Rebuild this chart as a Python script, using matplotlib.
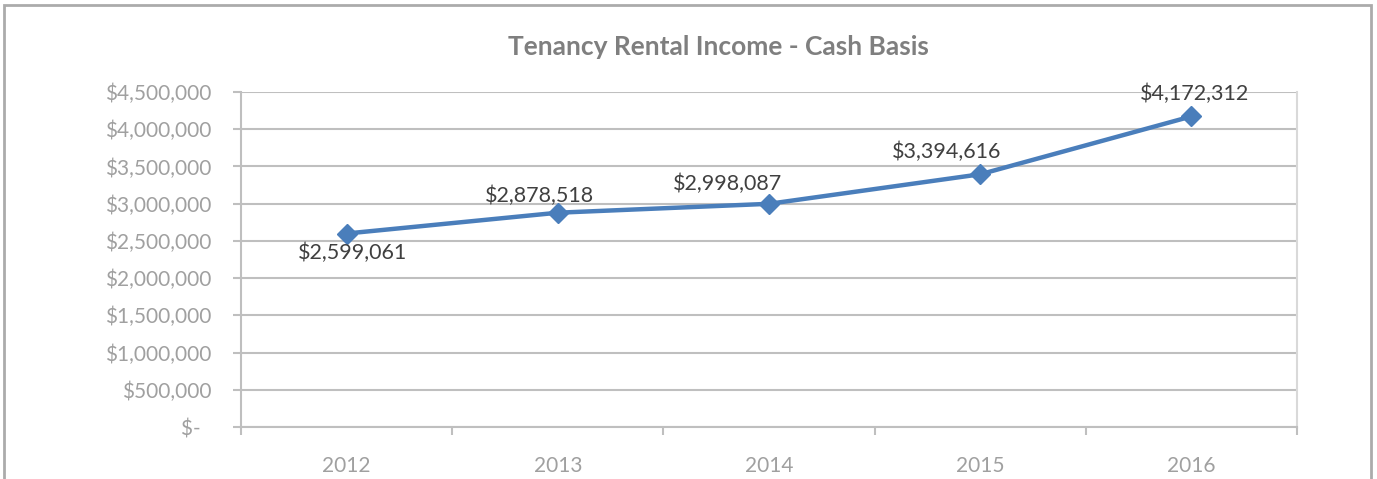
import matplotlib.pyplot as plt
from matplotlib.ticker import FuncFormatter, FixedLocator
from matplotlib.patches import Rectangle
import numpy as np

# data
years = ['2012', '2013', '2014', '2015', '2016']
income = [2599061, 2878518, 2998087, 3394616, 4172312]
# label offsets (points) as in the original chart
label_dx = [4, -13, -30, -24, 2]
label_dy = [-14, 12, 14, 16, 16]

plt.rcParams['font.family'] = ['Lato', 'DejaVu Sans']

fig = plt.figure(figsize=(13.77, 4.79), dpi=100)
ax = fig.add_axes([241/1377, 52/479, 1056/1377, 335/479])

x = np.arange(len(years))
ax.plot(x, income, color='#4A7EBB', linewidth=3.2, marker='D',
        markersize=10, zorder=5, clip_on=False)

for xi, yi, dx, dy in zip(x, income, label_dx, label_dy):
    ax.annotate(f'${yi:,.0f}', (xi, yi), xytext=(dx, dy),
                textcoords='offset points', ha='center', va='center',
                fontsize=15.5, color='#404040', zorder=6)

ax.set_xlim(-0.5, len(years) - 0.5)
ax.set_ylim(0, 4500000)
ax.set_yticks(np.arange(0, 4500001, 500000))

def money(v, pos):
    if v == 0:
        return '$-  '
    return f'${v:,.0f}'

ax.yaxis.set_major_formatter(FuncFormatter(money))
ax.set_xticks(x)
ax.set_xticklabels(years)
ax.xaxis.set_minor_locator(FixedLocator(np.arange(-0.5, len(years), 1)))

ax.tick_params(axis='x', which='major', length=0, pad=21, labelsize=15,
               labelcolor='#A0A0A0')
ax.tick_params(axis='x', which='minor', length=6, width=1.5, color='#BFBFBF')
ax.tick_params(axis='y', length=6, width=1.5, color='#BFBFBF', pad=15,
               labelsize=15, labelcolor='#A0A0A0')

ax.grid(axis='y', color='#BFBFBF', linewidth=1.5)
ax.set_axisbelow(True)
for side in ['left', 'bottom']:
    ax.spines[side].set_color('#BFBFBF')
    ax.spines[side].set_linewidth(1.5)
ax.spines['top'].set_visible(False)
ax.spines['right'].set_color('#D9D9D9')
ax.spines['right'].set_linewidth(1.5)

fig.text(718/1377, 1 - 47/479, 'Tenancy Rental Income - Cash Basis', ha='center',
         va='center', fontsize=19, fontweight='bold', color='#7F7F7F')

# outer chart border
fig.patches.append(Rectangle((4/1377, -0.05), 1367/1377, 1.05 - 5/479,
                             transform=fig.transFigure, fill=False,
                             edgecolor='#ABABAB', linewidth=2))

fig.savefig('out.png', dpi=100)
